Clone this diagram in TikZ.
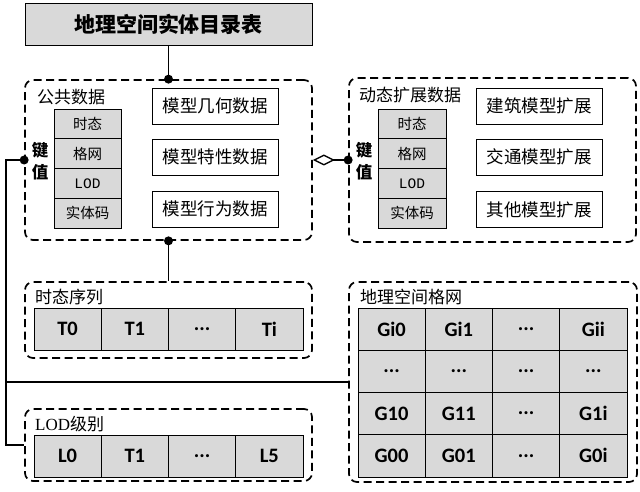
\documentclass[tikz,border=0pt]{standalone}
\usepackage{fontspec}
\setmainfont{Noto Sans CJK SC}
\newfontfamily\lat{Carlito}
\newfontfamily\monof{Liberation Mono}
\newfontfamily\seriff{Liberation Serif}
\usetikzlibrary{arrows.meta}
\newcommand\mydots{...}
\definecolor{cellgray}{HTML}{D9D9D9}
\tikzset{
  grp/.style={draw, line width=1.7pt, rounded corners=8pt, dash pattern=on 8pt off 4.5pt, inner sep=0pt},
  cell/.style={draw, fill=cellgray, line width=0.8pt, inner sep=0pt, font=\lat\bfseries\fontsize{20.5}{22}\selectfont},
  keycell/.style={draw, fill=cellgray, line width=0.8pt, minimum width=67pt, minimum height=29.7pt, inner sep=0pt, font=\fontsize{14.5}{16}\selectfont},
  rbox/.style={draw, fill=white, line width=0.8pt, minimum width=126pt, minimum height=36pt, inner sep=0pt, font=\fontsize{17.5}{19}\selectfont},
  grplabel/.style={anchor=west, inner sep=0pt, font=\fontsize{17}{19}\selectfont},
  keylabel/.style={inner sep=0pt, font=\bfseries\fontsize{16.5}{18}\selectfont},
  conn/.style={draw, line width=1.5pt},
  dot/.style={circle, fill=black, inner sep=0pt, minimum size=9pt}
}
\begin{document}
\begin{tikzpicture}[x=1pt,y=-1pt]
\useasboundingbox[fill=white] (0,0) rectangle (640,492);

% title
\node[draw, fill=cellgray, line width=0.8pt, minimum width=287pt, minimum height=42pt, inner sep=0pt,
      font=\bfseries\fontsize{21}{24}\selectfont] (title) at (168.5,24) {地理空间实体目录表};

% group boxes
\node[grp, minimum width=287pt, minimum height=160pt] (pub) at (168.5,160) {};
\node[grp, minimum width=287pt, minimum height=164pt] (dyn) at (492.5,160) {};
\node[grp, minimum width=287pt, minimum height=76pt] (ts) at (168.5,320) {};
\node[grp, minimum width=287pt, minimum height=72pt] (lod) at (168.5,445) {};
\node[grp, minimum width=288pt, minimum height=200pt] (grid) at (493,382) {};

% labels
\node[grplabel] (lpub) at (37,97) {公共数据};
\node[grplabel] (ldyn) at (359,95) {动态扩展数据};
\node[grplabel] (lts) at (35,297) {时态序列};
\node[grplabel] (llod) at (35,424) {{\seriff LOD}级别};
\node[grplabel] (lgrid) at (360,297) {地理空间格网};

% public key cells
\node[keycell] (pk1) at (87.5,124) {时态};
\node[keycell] (pk2) at (87.5,153.7) {格网};
\node[keycell] (pk3) at (87.5,183.4) {\monof LOD};
\node[keycell] (pk4) at (87.5,213.1) {实体码};
\node[keylabel] (pj) at (40,150) {键};
\node[keylabel] (pz) at (40,172) {值};

% public right boxes
\node[rbox] (pr1) at (215,106) {模型几何数据};
\node[rbox] (pr2) at (215,157) {模型特性数据};
\node[rbox] (pr3) at (215,209) {模型行为数据};

% dynamic key cells
\node[keycell, minimum width=68pt] (dk1) at (412,124) {时态};
\node[keycell, minimum width=68pt] (dk2) at (412,153.7) {格网};
\node[keycell, minimum width=68pt] (dk3) at (412,183.4) {\monof LOD};
\node[keycell, minimum width=68pt] (dk4) at (412,213.1) {实体码};
\node[keylabel] (dj) at (364,150) {键};
\node[keylabel] (dz) at (364,172) {值};

% dynamic right boxes
\node[rbox] (dr1) at (539,106) {建筑模型扩展};
\node[rbox] (dr2) at (539,157) {交通模型扩展};
\node[rbox] (dr3) at (539,209.5) {其他模型扩展};

% time sequence cells
\foreach \t [count=\i from 0] in {T0,T1,\mydots,Ti}{
  \node[cell, minimum width=67.25pt, minimum height=42pt] (ts\i) at ({67.6+67.25*\i},329) {\t};
}
% LOD cells
\foreach \t [count=\i from 0] in {L0,T1,\mydots,L5}{
  \node[cell, minimum width=67.25pt, minimum height=42pt] (lc\i) at ({67.6+67.25*\i},456) {\t};
}
% grid cells
\foreach \r/\row in {0/{Gi0,Gi1,\mydots,Gii},1/{\mydots,\mydots,\mydots,\mydots},2/{G10,G11,\mydots,G1i},3/{G00,G01,\mydots,G0i}}{
  \foreach \t [count=\c from 0] in \row {
    \node[cell, minimum width=67.25pt, minimum height=42.25pt] (g\r\c) at ({391.6+67.25*\c},{329.1+42.25*\r}) {\t};
  }
}

% connectors
\draw[conn] (title.south) -- (pub.north);
\node[dot] (d1) at (pub.north) {};
\draw[conn] (pub.south) -- (ts.north);
\node[dot] (d2) at (pub.south) {};
\draw[line width=1.5pt, {Diamond[open, fill=white, length=22pt, width=11pt, line width=1.3pt]}-] (pub.east) -- (dyn.west);
\node[dot] (d3) at (dyn.west) {};
\coordinate (lb) at (6,160);
\draw[conn] (pub.west) -- (lb) |- (lod.west);
\draw[conn] (lb |- grid.west) -- (grid.west);
\node[dot] (d4) at (pub.west) {};
\end{tikzpicture}
\end{document}
